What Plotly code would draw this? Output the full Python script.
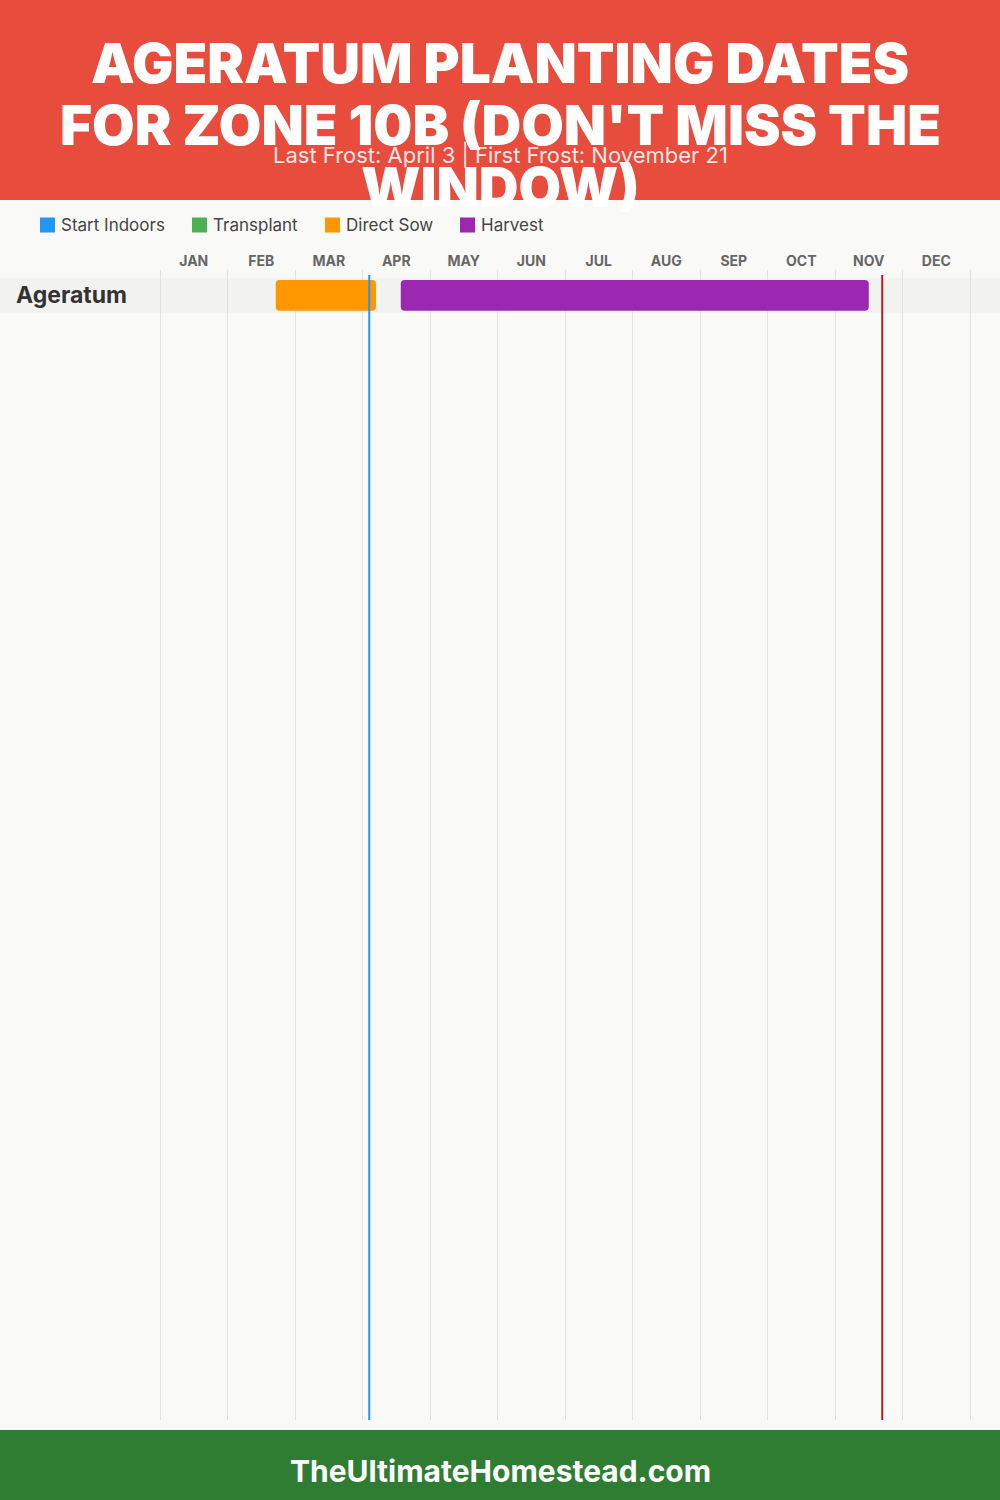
import plotly.graph_objects as go

# ---------------- data ----------------
months = ["JAN", "FEB", "MAR", "APR", "MAY", "JUN", "JUL", "AUG", "SEP", "OCT", "NOV", "DEC"]
days_in_month = [31, 28, 31, 30, 31, 30, 31, 31, 30, 31, 30, 31]

crops = ["Ageratum"]
direct_sow_start = [(2, 20)]
direct_sow_end = [(4, 6)]
harvest_start = [(4, 17)]
harvest_end = [(11, 15)]

last_frost = (4, 3)
first_frost = (11, 21)

legend_names = ["Start Indoors", "Transplant", "Direct Sow", "Harvest"]
legend_colors = ["#2196F3", "#4CAF50", "#FF9800", "#9C27B0"]

title_lines = ["AGERATUM PLANTING DATES", "FOR ZONE 10B (DON'T MISS THE", "WINDOW)"]
subtitle = "Last Frost: April 3 | First Frost: November 21"
footer = "TheUltimateHomestead.com"


def pos(md):
    m, d = md
    return (m - 1) + d / days_in_month[m - 1]


W, H = 1000, 1500
PLOT_TOP, PLOT_BOT = 270, 1420
ROW_PX = 35.0
ROW0_CENTER = 295.3
y_top = -(ROW0_CENTER - PLOT_TOP) / ROW_PX
y_bot = y_top + (PLOT_BOT - PLOT_TOP) / ROW_PX

MONTH_PX = 67.5
PAD = 0.04  # months of padding so edge gridlines are drawn
X_LEFT, X_RIGHT = 160 - PAD * MONTH_PX, 970 + PAD * MONTH_PX


def py(px):
    return 1 - px / H


TITLE_FONT = "Inter"
BODY_FONT = "Inter"

fig = go.Figure()

ys = list(range(len(crops)))
fig.add_trace(go.Bar(
    y=ys, base=[pos(s) for s in direct_sow_start],
    x=[pos(e) - pos(s) for s, e in zip(direct_sow_start, direct_sow_end)],
    orientation="h", width=0.88, marker=dict(color="#FF9800", cornerradius=4, line=dict(width=0)),
    name="Direct Sow", showlegend=False, hoverinfo="skip"))
fig.add_trace(go.Bar(
    y=ys, base=[pos(s) for s in harvest_start],
    x=[pos(e) - pos(s) for s, e in zip(harvest_start, harvest_end)],
    orientation="h", width=0.88, marker=dict(color="#9C27B0", cornerradius=4, line=dict(width=0)),
    name="Harvest", showlegend=False, hoverinfo="skip"))

shapes = []
annotations = []

# header / footer
shapes.append(dict(type="rect", xref="paper", yref="paper", x0=0, x1=1, y0=py(200), y1=1,
                   fillcolor="#E74C3C", line=dict(width=0), layer="below"))
shapes.append(dict(type="rect", xref="paper", yref="paper", x0=0, x1=1, y0=0, y1=py(1430),
                   fillcolor="#2E7D32", line=dict(width=0), layer="below"))

# row bands
for i in ys:
    shapes.append(dict(type="rect", xref="paper", yref="y", x0=0, x1=1, y0=i - 0.5, y1=i + 0.5,
                       fillcolor="#F2F2F0", line=dict(width=0), layer="between"))
    annotations.append(dict(text=crops[i], xref="paper", yref="y", x=14 / W, y=i, xanchor="left",
                            yanchor="middle", showarrow=False,
                            font=dict(family=BODY_FONT, size=23, color="#333333", weight=700)))

# frost lines
for md, col in [(last_frost, "#2196F3"), (first_frost, "#B71C1C")]:
    shapes.append(dict(type="line", xref="x", yref="paper", x0=pos(md), x1=pos(md),
                       y0=py(PLOT_BOT), y1=py(275), line=dict(color=col, width=2), layer="above"))

# title
for k, (line, yc) in enumerate(zip(title_lines, [63, 125, 187])):
    annotations.append(dict(text=line, xref="paper", yref="paper", x=0.5, y=py(yc),
                            xanchor="center", yanchor="middle", showarrow=False,
                            font=dict(family=TITLE_FONT, size=55, color="white", weight=900)))
annotations.insert(len(annotations) - 1,
                   dict(text=subtitle, xref="paper", yref="paper", x=0.5, y=py(155), xanchor="center",
                        yanchor="middle", showarrow=False,
                        font=dict(family=BODY_FONT, size=22, color="rgba(255,255,255,0.88)")))

# legend
leg_x = [40, 192, 325, 460]
for name, col, lx in zip(legend_names, legend_colors, leg_x):
    shapes.append(dict(type="rect", xref="paper", yref="paper", x0=lx / W, x1=(lx + 15) / W,
                       y0=py(232.5), y1=py(217.5), fillcolor=col, line=dict(width=0)))
    annotations.append(dict(text=name, xref="paper", yref="paper", x=(lx + 19) / W, y=py(225),
                            xanchor="left", yanchor="middle", showarrow=False,
                            font=dict(family=BODY_FONT, size=17, color="#444444")))

# footer text
annotations.append(dict(text=footer, xref="paper", yref="paper", x=0.5, y=py(1471), xanchor="center",
                        yanchor="middle", showarrow=False,
                        font=dict(family=BODY_FONT, size=30, color="white", weight=700)))

fig.update_layout(
    width=W, height=H, margin=dict(l=0, r=0, t=0, b=0),
    paper_bgcolor="#F9F9F7", plot_bgcolor="rgba(0,0,0,0)",
    barmode="overlay", showlegend=False,
    shapes=shapes, annotations=annotations,
    xaxis=dict(domain=[X_LEFT / W, X_RIGHT / W], range=[-PAD, 12 + PAD], side="top",
               tickmode="array", tickvals=[i + 0.5 for i in range(12)], ticktext=months,
               tickfont=dict(family=BODY_FONT, size=14, color="#666666", weight=700),
               ticklabelstandoff=0,
               showgrid=False, zeroline=False, showline=False, ticks="",
               minor=dict(tickmode="array", tickvals=list(range(13)), showgrid=True,
                          gridcolor="#E0E0E0", gridwidth=1, ticks=""),
               fixedrange=True),
    yaxis=dict(domain=[py(PLOT_BOT), py(PLOT_TOP)], range=[y_bot, y_top],
               showticklabels=False, showgrid=False, zeroline=False, showline=False, ticks="",
               fixedrange=True),
)

fig.write_html("out.html")
